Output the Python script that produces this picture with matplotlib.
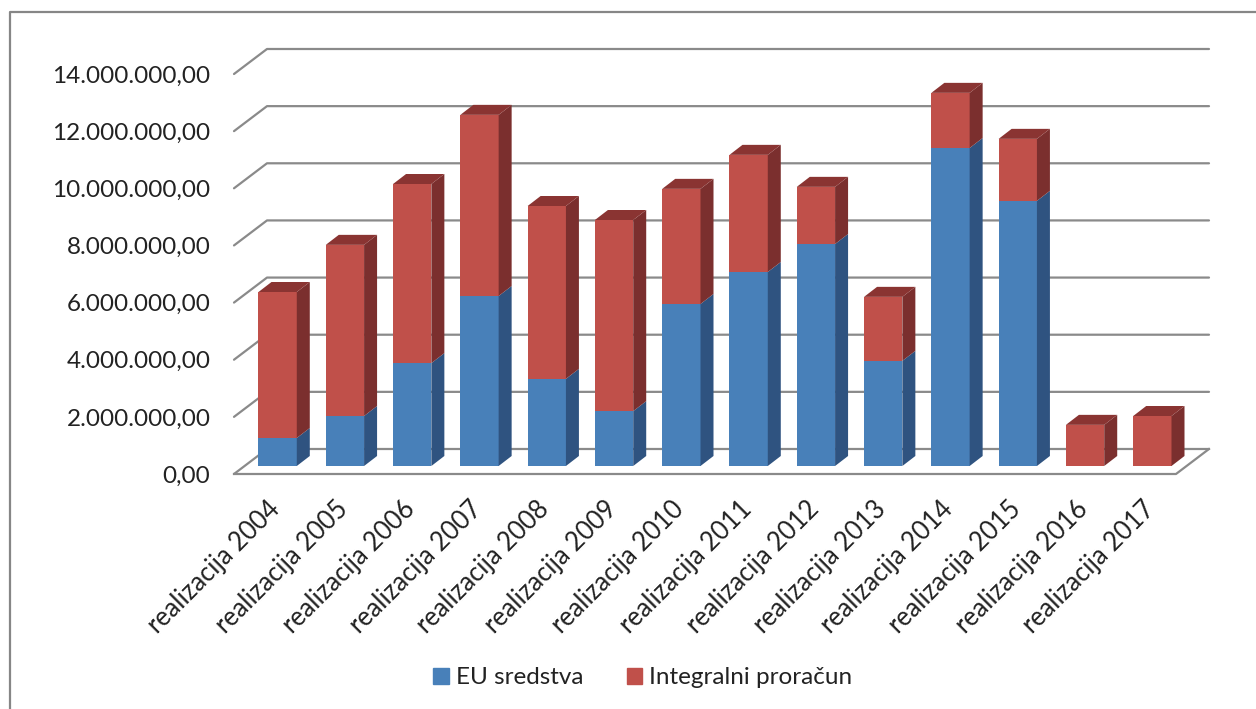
import matplotlib
matplotlib.use('Agg')
import matplotlib.pyplot as plt
from matplotlib.lines import Line2D
from matplotlib.patches import Patch, Polygon

plt.rcParams['font.family'] = ['Lato', 'DejaVu Sans']

years = ['realizacija 2004', 'realizacija 2005', 'realizacija 2006', 'realizacija 2007',
         'realizacija 2008', 'realizacija 2009', 'realizacija 2010', 'realizacija 2011',
         'realizacija 2012', 'realizacija 2013', 'realizacija 2014', 'realizacija 2015',
         'realizacija 2016', 'realizacija 2017']
eu = [980000, 1750000, 3600000, 5950000, 3050000, 1920000, 5670000,
      6790000, 7770000, 3680000, 11130000, 9280000, 0, 0]
integral = [5110000, 5990000, 6270000, 6340000, 6050000, 6690000, 4030000,
            4100000, 2000000, 2240000, 1930000, 2170000, 1440000, 1750000]
yticks = [0, 2000000, 4000000, 6000000, 8000000, 10000000, 12000000, 14000000]
ytick_labels = ['0,00', '2.000.000,00', '4.000.000,00', '6.000.000,00',
                '8.000.000,00', '10.000.000,00', '12.000.000,00', '14.000.000,00']

W, H = 1256, 709
fig = plt.figure(figsize=(W / 100, H / 100), dpi=100)
# front plane of the fake 3d chart, in pixels
left, right, bottom, top = 234, 1176, 474, 74
ax = fig.add_axes([left / W, 1 - bottom / H, (right - left) / W, (bottom - top) / H])
ax.set_xlim(-0.5, 13.5)
ax.set_ylim(0, 14000000)
ax.patch.set_visible(False)
for s in ax.spines.values():
    s.set_visible(False)

# depth offsets in data units
floor_dx = 33 / 67.3
floor_dy = 25 / 28.57 * 1e6
bar_x0 = 10 / 67.3
bar_y0 = 8 / 28.57 * 1e6
bar_dx = 13 / 67.3
bar_dy = 10 / 28.57 * 1e6
bar_w = 38.3 / 67.3

grid = '#8a8a8a'
for v in yticks:
    ax.plot([-0.5, -0.5 + floor_dx, 13.5 + floor_dx], [v, v + floor_dy, v + floor_dy],
            color=grid, lw=1.6, clip_on=False, zorder=1, solid_capstyle='round')
ax.plot([-0.5, 13.5, 13.5 + floor_dx], [0, 0, floor_dy], color=grid, lw=1.6,
        clip_on=False, zorder=1)

blue, blue_side = '#4880b9', '#2f5380'
red, red_side, red_top = '#c0504a', '#7b2f2e', '#8a3432'
xs = [i + bar_x0 for i in range(len(years))]
ax.bar(xs, eu, bar_w, bottom=bar_y0, color=blue, zorder=3, clip_on=False)
ax.bar(xs, integral, bar_w, bottom=[e + bar_y0 for e in eu], color=red, zorder=3, clip_on=False)


def side(x, y0, y1, color):
    r = x + bar_w / 2
    ax.add_patch(Polygon([(r, y0), (r + bar_dx, y0 + bar_dy), (r + bar_dx, y1 + bar_dy), (r, y1)],
                         closed=True, fc=color, ec='none', clip_on=False, zorder=3))


for x, e, n in zip(xs, eu, integral):
    if e > 0:
        side(x, bar_y0, bar_y0 + e, blue_side)
    side(x, bar_y0 + e, bar_y0 + e + n, red_side)
    t = bar_y0 + e + n
    l = x - bar_w / 2
    r = x + bar_w / 2
    ax.add_patch(Polygon([(l, t), (r, t), (r + bar_dx, t + bar_dy), (l + bar_dx, t + bar_dy)],
                         closed=True, fc=red_top, ec='none', clip_on=False, zorder=3))

ax.set_yticks(yticks)
ax.set_yticklabels(ytick_labels, fontsize=17.5, color='#222222')
ax.set_xticks(range(len(years)))
ax.set_xticklabels(years, fontsize=18.4, color='#222222', rotation=45, ha='right',
                   rotation_mode='anchor')
ax.tick_params(axis='both', length=0)
ax.tick_params(axis='y', pad=17)
ax.tick_params(axis='x', pad=16)

handles = [Patch(color=blue, label='EU sredstva'), Patch(color=red, label='Integralni proračun')]
fig.legend(handles=handles, loc='center', bbox_to_anchor=(643 / W, 1 - 678 / H), ncol=2,
           frameon=False, fontsize=17.5, handlelength=0.62, handleheight=0.62,
           handletextpad=0.3, columnspacing=1.8, labelcolor='#222222')

# chart border, cut off at the right and bottom of the screenshot
fig.add_artist(Line2D([10 / W, 10 / W, 1], [0, 1 - 12 / H, 1 - 12 / H], color='#868686', lw=1.6,
                      transform=fig.transFigure))

fig.savefig('out.png', dpi=100)
